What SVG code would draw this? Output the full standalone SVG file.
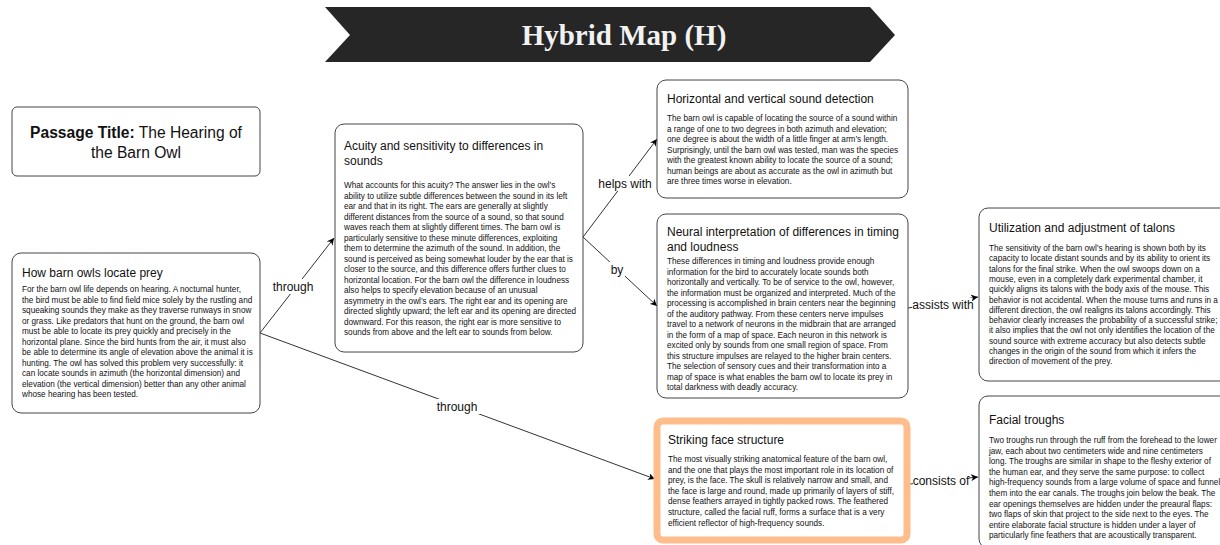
<svg xmlns="http://www.w3.org/2000/svg" width="1220" height="545" viewBox="0 0 1220 545">
<defs>
<marker id="arr" viewBox="0 0 10 10" refX="10" refY="5" markerWidth="7" markerHeight="7" orient="auto" markerUnits="userSpaceOnUse"><path d="M0,0 L10,5 L0,10 L3,5 z" fill="#000"/></marker>
</defs>
<style>
.box{fill:#fff;stroke:#444;stroke-width:1}
.t{font-family:"Liberation Sans",Arial,Helvetica,sans-serif;font-size:12px;fill:#111}
.b{font-family:"Liberation Sans",Arial,Helvetica,sans-serif;font-size:8.2px;fill:#111}
.lbl{font-family:"Liberation Sans",Arial,Helvetica,sans-serif;font-size:12px;fill:#111;text-anchor:middle}
.lbg{fill:#fff}
.con{fill:none;stroke:#333;stroke-width:1;marker-end:url(#arr)}
</style>
<rect width="1220" height="545" fill="#fff"/>
<g id="banner">
<polygon points="325,7 870,7 895,35 870,62 325,62 350,35" fill="#262626"/>
<text x="624" y="45" text-anchor="middle" font-family="'Liberation Serif','Times New Roman',serif" font-weight="bold" font-size="29" fill="#f2f2f2">Hybrid Map (H)</text>
</g>
<g id="passage-title">
<rect x="12" y="107" width="248" height="69" rx="5" class="box"/>
<text x="136" y="138" text-anchor="middle" font-family="'Liberation Sans',Arial,sans-serif" font-size="15.6" fill="#111"><tspan font-weight="bold">Passage Title:</tspan> The Hearing of</text>
<text x="136" y="158" text-anchor="middle" font-family="'Liberation Sans',Arial,sans-serif" font-size="15.6" fill="#111">the Barn Owl</text>
</g>
<g id="connectors">
<path class="con" d="M260,333 L334,238"/>
<path class="con" d="M260,333 L655,479"/>
<path class="con" d="M583,237 L657,139"/>
<path class="con" d="M583,237 L657,306"/>
<path class="con" d="M908,308 L978,297"/>
<path class="con" d="M910,484 L978,477"/>
<rect class="lbg" x="268" y="279" width="51" height="15"/>
<text class="lbl" x="293" y="291">through</text>
<rect class="lbg" x="432" y="399" width="51" height="15"/>
<text class="lbl" x="457" y="411">through</text>
<rect class="lbg" x="597" y="176" width="56" height="15"/>
<text class="lbl" x="625" y="188">helps with</text>
<rect class="lbg" x="609" y="262" width="16" height="15"/>
<text class="lbl" x="617" y="274">by</text>
<rect class="lbg" x="912" y="298" width="60" height="15"/>
<text class="lbl" x="943" y="309">assists with</text>
<rect class="lbg" x="913" y="475" width="56" height="14"/>
<text class="lbl" x="941" y="485">consists of</text>
</g>
<g id="n-prey">
<rect x="12" y="253" width="248" height="160" rx="9" class="box"/>
<text class="t" x="22" y="277">How barn owls locate prey</text>
<text class="b" x="22" y="292"><tspan x="22">For the barn owl life depends on hearing. A nocturnal hunter,</tspan><tspan x="22" dy="10.5">the bird must be able to find field mice solely by the rustling and</tspan><tspan x="22" dy="10.5">squeaking sounds they make as they traverse runways in snow</tspan><tspan x="22" dy="10.5">or grass. Like predators that hunt on the ground, the barn owl</tspan><tspan x="22" dy="10.5">must be able to locate its prey quickly and precisely in the</tspan><tspan x="22" dy="10.5">horizontal plane. Since the bird hunts from the air, it must also</tspan><tspan x="22" dy="10.5">be able to determine its angle of elevation above the animal it is</tspan><tspan x="22" dy="10.5">hunting. The owl has solved this problem very successfully: it</tspan><tspan x="22" dy="10.5">can locate sounds in azimuth (the horizontal dimension) and</tspan><tspan x="22" dy="10.5">elevation (the vertical dimension) better than any other animal</tspan><tspan x="22" dy="10.5">whose hearing has been tested.</tspan></text>
</g>
<g id="n-acuity">
<rect x="335" y="124" width="248" height="228" rx="9" class="box"/>
<text class="t" x="344" y="150"><tspan x="344">Acuity and sensitivity to differences in</tspan><tspan x="344" dy="15">sounds</tspan></text>
<text class="b" x="344" y="188"><tspan x="344">What accounts for this acuity? The answer lies in the owl’s</tspan><tspan x="344" dy="10.5">ability to utilize subtle differences between the sound in its left</tspan><tspan x="344" dy="10.5">ear and that in its right. The ears are generally at slightly</tspan><tspan x="344" dy="10.5">different distances from the source of a sound, so that sound</tspan><tspan x="344" dy="10.5">waves reach them at slightly different times. The barn owl is</tspan><tspan x="344" dy="10.5">particularly sensitive to these minute differences, exploiting</tspan><tspan x="344" dy="10.5">them to determine the azimuth of the sound. In addition, the</tspan><tspan x="344" dy="10.5">sound is perceived as being somewhat louder by the ear that is</tspan><tspan x="344" dy="10.5">closer to the source, and this difference offers further clues to</tspan><tspan x="344" dy="10.5">horizontal location. For the barn owl the difference in loudness</tspan><tspan x="344" dy="10.5">also helps to specify elevation because of an unusual</tspan><tspan x="344" dy="10.5">asymmetry in the owl’s ears. The right ear and its opening are</tspan><tspan x="344" dy="10.5">directed slightly upward; the left ear and its opening are directed</tspan><tspan x="344" dy="10.5">downward. For this reason, the right ear is more sensitive to</tspan><tspan x="344" dy="10.5">sounds from above and the left ear to sounds from below.</tspan></text>
</g>
<g id="n-horizontal">
<rect x="657" y="80" width="251" height="118" rx="9" class="box"/>
<text class="t" x="667" y="103">Horizontal and vertical sound detection</text>
<text class="b" x="667" y="121"><tspan x="667">The barn owl is capable of locating the source of a sound within</tspan><tspan x="667" dy="10.5">a range of one to two degrees in both azimuth and elevation;</tspan><tspan x="667" dy="10.5">one degree is about the width of a little finger at arm’s length.</tspan><tspan x="667" dy="10.5">Surprisingly, until the barn owl was tested, man was the species</tspan><tspan x="667" dy="10.5">with the greatest known ability to locate the source of a sound;</tspan><tspan x="667" dy="10.5">human beings are about as accurate as the owl in azimuth but</tspan><tspan x="667" dy="10.5">are three times worse in elevation.</tspan></text>
</g>
<g id="n-neural">
<rect x="657" y="214" width="251" height="184" rx="9" class="box"/>
<text class="t" x="667" y="236"><tspan x="667">Neural interpretation of differences in timing</tspan><tspan x="667" dy="15">and loudness</tspan></text>
<text class="b" x="667" y="264"><tspan x="667">These differences in timing and loudness provide enough</tspan><tspan x="667" dy="10.5">information for the bird to accurately locate sounds both</tspan><tspan x="667" dy="10.5">horizontally and vertically. To be of service to the owl, however,</tspan><tspan x="667" dy="10.5">the information must be organized and interpreted. Much of the</tspan><tspan x="667" dy="10.5">processing is accomplished in brain centers near the beginning</tspan><tspan x="667" dy="10.5">of the auditory pathway. From these centers nerve impulses</tspan><tspan x="667" dy="10.5">travel to a network of neurons in the midbrain that are arranged</tspan><tspan x="667" dy="10.5">in the form of a map of space. Each neuron in this network is</tspan><tspan x="667" dy="10.5">excited only by sounds from one small region of space. From</tspan><tspan x="667" dy="10.5">this structure impulses are relayed to the higher brain centers.</tspan><tspan x="667" dy="10.5">The selection of sensory cues and their transformation into a</tspan><tspan x="667" dy="10.5">map of space is what enables the barn owl to locate its prey in</tspan><tspan x="667" dy="10.5">total darkness with deadly accuracy.</tspan></text>
</g>
<g id="n-striking">
<rect x="657" y="421" width="250" height="119" rx="6" fill="#fff" stroke="#FFBD8C" stroke-width="7"/>
<text class="t" x="668" y="444">Striking face structure</text>
<text class="b" x="668" y="462"><tspan x="668">The most visually striking anatomical feature of the barn owl,</tspan><tspan x="668" dy="10.6">and the one that plays the most important role in its location of</tspan><tspan x="668" dy="10.6">prey, is the face. The skull is relatively narrow and small, and</tspan><tspan x="668" dy="10.6">the face is large and round, made up primarily of layers of stiff,</tspan><tspan x="668" dy="10.6">dense feathers arrayed in tightly packed rows. The feathered</tspan><tspan x="668" dy="10.6">structure, called the facial ruff, forms a surface that is a very</tspan><tspan x="668" dy="10.6">efficient reflector of high-frequency sounds.</tspan></text>
</g>
<g id="n-talons">
<rect x="979" y="208" width="270" height="173" rx="9" class="box"/>
<text class="t" x="989" y="232">Utilization and adjustment of talons</text>
<text class="b" x="989" y="251"><tspan x="989">The sensitivity of the barn owl’s hearing is shown both by its</tspan><tspan x="989" dy="10.3">capacity to locate distant sounds and by its ability to orient its</tspan><tspan x="989" dy="10.3">talons for the final strike. When the owl swoops down on a</tspan><tspan x="989" dy="10.3">mouse, even in a completely dark experimental chamber, it</tspan><tspan x="989" dy="10.3">quickly aligns its talons with the body axis of the mouse. This</tspan><tspan x="989" dy="10.3">behavior is not accidental. When the mouse turns and runs in a</tspan><tspan x="989" dy="10.3">different direction, the owl realigns its talons accordingly. This</tspan><tspan x="989" dy="10.3">behavior clearly increases the probability of a successful strike;</tspan><tspan x="989" dy="10.3">it also implies that the owl not only identifies the location of the</tspan><tspan x="989" dy="10.3">sound source with extreme accuracy but also detects subtle</tspan><tspan x="989" dy="10.3">changes in the origin of the sound from which it infers the</tspan><tspan x="989" dy="10.3">direction of movement of the prey.</tspan></text>
</g>
<g id="n-troughs">
<rect x="979" y="396" width="270" height="152" rx="9" class="box"/>
<text class="t" x="989" y="424">Facial troughs</text>
<text class="b" x="989" y="443"><tspan x="989">Two troughs run through the ruff from the forehead to the lower</tspan><tspan x="989" dy="10.6">jaw, each about two centimeters wide and nine centimeters</tspan><tspan x="989" dy="10.6">long. The troughs are similar in shape to the fleshy exterior of</tspan><tspan x="989" dy="10.6">the human ear, and they serve the same purpose: to collect</tspan><tspan x="989" dy="10.6">high-frequency sounds from a large volume of space and funnel</tspan><tspan x="989" dy="10.6">them into the ear canals. The troughs join below the beak. The</tspan><tspan x="989" dy="10.6">ear openings themselves are hidden under the preaural flaps:</tspan><tspan x="989" dy="10.6">two flaps of skin that project to the side next to the eyes. The</tspan><tspan x="989" dy="10.6">entire elaborate facial structure is hidden under a layer of</tspan><tspan x="989" dy="10.6">particularly fine feathers that are acoustically transparent.</tspan></text>
</g>
</svg>
